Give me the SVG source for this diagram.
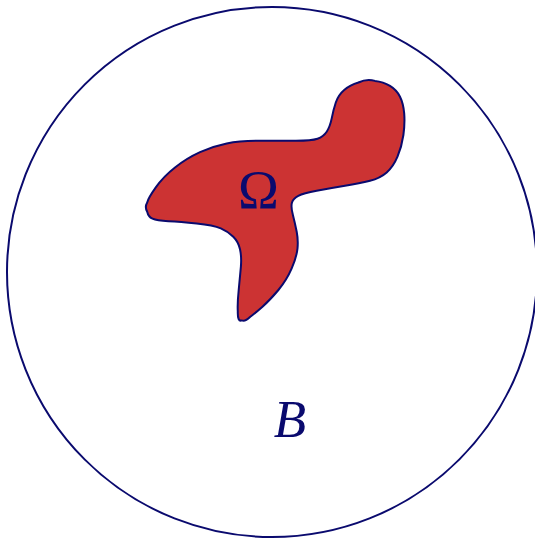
<svg xmlns="http://www.w3.org/2000/svg" width="535" height="542" viewBox="0 0 535 542">
<style>
.outline{fill:none;stroke:#0a0a6e;stroke-width:2}
.blob{fill:#cc3333;stroke:#0a0a6e;stroke-width:2;stroke-linejoin:round}
.lbl{fill:#0a0a6e}
</style>
<rect width="535" height="542" fill="#ffffff"/>
<g id="B">
<circle class="outline" cx="272" cy="272" r="265"/>
<text class="lbl" x="290" y="437" font-family="'Liberation Serif', serif" font-style="italic" font-size="53" text-anchor="middle">B</text>
</g>
<g id="Omega">
<path class="blob" d="M147.2,211.7 Q144.5,207 147.2,202.4 Q148.3,198 155.8,187.4 Q163.3,176.7 175,167.5 Q186.7,158.3 200,152.2 Q213.3,146 226.7,143.4 Q240,140.7 260,140.7 Q280,140.7 295.9,140.7 Q311.7,140.7 317.5,138.7 Q323.3,136.7 326.7,131.7 Q330,126.7 331.7,118.4 Q333.3,110 335.8,102.5 Q338.3,95 344.2,90 Q350,85 358.4,82.5 Q366.7,78.5 375,80.9 Q383.3,81.7 390,85.9 Q396.7,90 400,96.7 Q403.3,103.3 404.2,113.3 Q405,123.3 403.4,135 Q401.7,146.7 397.5,156.7 Q393.3,166.7 386.7,172.5 Q380,178.3 370,180.8 Q360,183.3 345,185.8 Q330,188.3 316.7,190.8 Q303.3,193.3 298.3,195.8 Q293.3,198.3 292,202.5 Q290.7,206.7 292.9,215 Q295,223.3 296.7,231.7 Q298.3,240 297.5,248.4 Q296.7,256.7 291.7,268.4 Q286.7,280 278.4,290 Q270,300 262.5,306.7 Q255,313.3 250,317 Q245,322 241.7,320.4 Q237.5,322 237.8,311.7 Q237.3,303.3 238.7,290 Q240,276.7 240.9,266.7 Q241.7,256.7 240,249.2 Q238.3,241.7 233.3,236.7 Q228.3,231.7 220.8,228.4 Q213.3,225 196.7,223.4 Q180,221.7 168.4,221.2 Q156.7,220.7 152.5,218.7 Q148.3,216.7 147.2,211.7 Z"/>
<text class="lbl" x="258.5" y="208" font-family="'Liberation Serif', serif" font-size="55" text-anchor="middle">Ω</text>
</g>
</svg>
